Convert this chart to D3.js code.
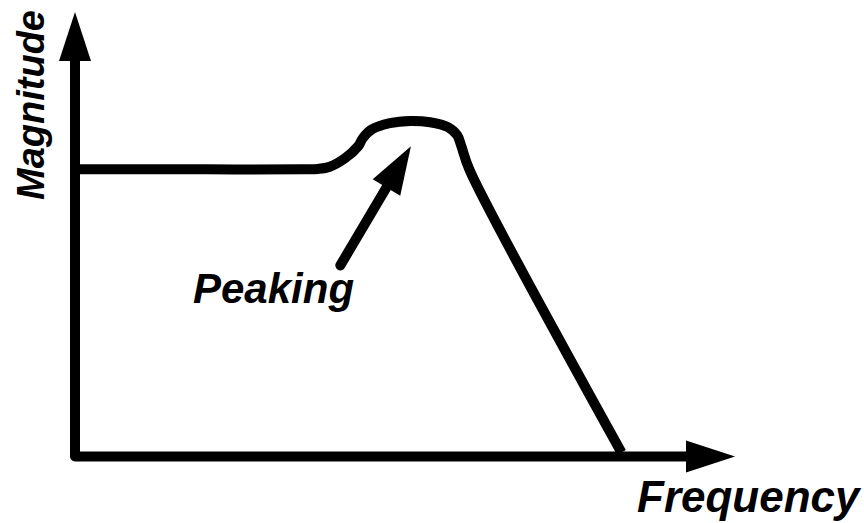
<!DOCTYPE html>
<html>
<head>
<meta charset="utf-8">
<script src="https://cdn.jsdelivr.net/npm/d3@7"></script>
<style>
  body { margin: 0; background: #fff; }
  text { font-family: "Liberation Sans", Arial, sans-serif; font-weight: bold; font-style: italic; }
</style>
</head>
<body>
<div id="chart"></div>
<script>
// Response curve (arbitrary units, 0-100 on both axes)
const freq      = [0, 20, 34.5, 36.8, 38.6, 40.9, 42.9, 43.6, 45.0, 47.7, 50.8, 53.8, 56.5, 57.9, 58.5, 59.8, 82.8];
const magnitude = [64.6, 64.6, 64.6, 64.7, 65.2, 67.1, 69.8, 71.6, 73.6, 75.0, 75.5, 75.2, 74.1, 72.3, 70.0, 64.4, 0.9];

// Annotation arrow (from label up to the peak)
const peakArrowFrom = [40.2, 43.0];
const peakArrowTo   = [50.9, 69.8];

const xLabel = "Frequency";
const yLabel = "Magnitude";
const peakLabel = "Peaking";

const width = 864, height = 523;

const svg = d3.select("#chart")
  .append("svg")
  .attr("width", width)
  .attr("height", height);

// scales: axis tips sit at domain max
const x = d3.scaleLinear().domain([0, 100]).range([75, 735]);
const y = d3.scaleLinear().domain([0, 100]).range([456.5, 12]);

const strokeW = 10;
const headLen = 48, headHalf = 16;

// Axes (lines + arrow heads)
svg.append("path")
  .attr("d", `M${x(0)},${y(100) + headLen} L${x(0)},${y(0)} L${x(100) - headLen},${y(0)}`)
  .attr("fill", "none")
  .attr("stroke", "#000")
  .attr("stroke-width", strokeW)
  .attr("stroke-linejoin", "round");

// y arrow head
svg.append("path")
  .attr("d", `M${x(0)},${y(100)} L${x(0) - headHalf},${y(100) + headLen + 1} L${x(0) + headHalf},${y(100) + headLen + 1} Z`)
  .attr("fill", "#000");

// x arrow head
svg.append("path")
  .attr("d", `M${x(100)},${y(0)} L${x(100) - headLen - 1},${y(0) - headHalf} L${x(100) - headLen - 1},${y(0) + headHalf} Z`)
  .attr("fill", "#000");

// Curve
const pts = freq.map((f, i) => [f, magnitude[i]]);
const line = d3.line()
  .x(d => x(d[0]))
  .y(d => y(d[1]))
  .curve(d3.curveCatmullRom.alpha(0.5));

svg.append("path")
  .datum(pts)
  .attr("fill", "none")
  .attr("stroke", "#000")
  .attr("stroke-width", strokeW)
  .attr("stroke-linejoin", "round")
  .attr("d", line);

// Peaking arrow
const ax0 = x(peakArrowFrom[0]), ay0 = y(peakArrowFrom[1]);
const ax1 = x(peakArrowTo[0]), ay1 = y(peakArrowTo[1]);
const ang = Math.atan2(ay1 - ay0, ax1 - ax0);
const bx = ax1 - headLen * Math.cos(ang), by = ay1 - headLen * Math.sin(ang);
const px = -Math.sin(ang) * headHalf, py = Math.cos(ang) * headHalf;

svg.append("line")
  .attr("x1", ax0).attr("y1", ay0)
  .attr("x2", bx + 2 * Math.cos(ang)).attr("y2", by + 2 * Math.sin(ang))
  .attr("stroke", "#000")
  .attr("stroke-width", strokeW)
  .attr("stroke-linecap", "round");

svg.append("path")
  .attr("d", `M${ax1},${ay1} L${bx + px},${by + py} L${bx - px},${by - py} Z`)
  .attr("fill", "#000");

// Labels
svg.append("text")
  .attr("x", 193)
  .attr("y", 303)
  .attr("font-size", 42)
  .text(peakLabel);

svg.append("text")
  .attr("x", 637)
  .attr("y", 512)
  .attr("font-size", 44)
  .text(xLabel);

svg.append("text")
  .attr("transform", "translate(44,105) rotate(-90)")
  .attr("text-anchor", "middle")
  .attr("font-size", 38)
  .text(yLabel);
</script>
</body>
</html>
